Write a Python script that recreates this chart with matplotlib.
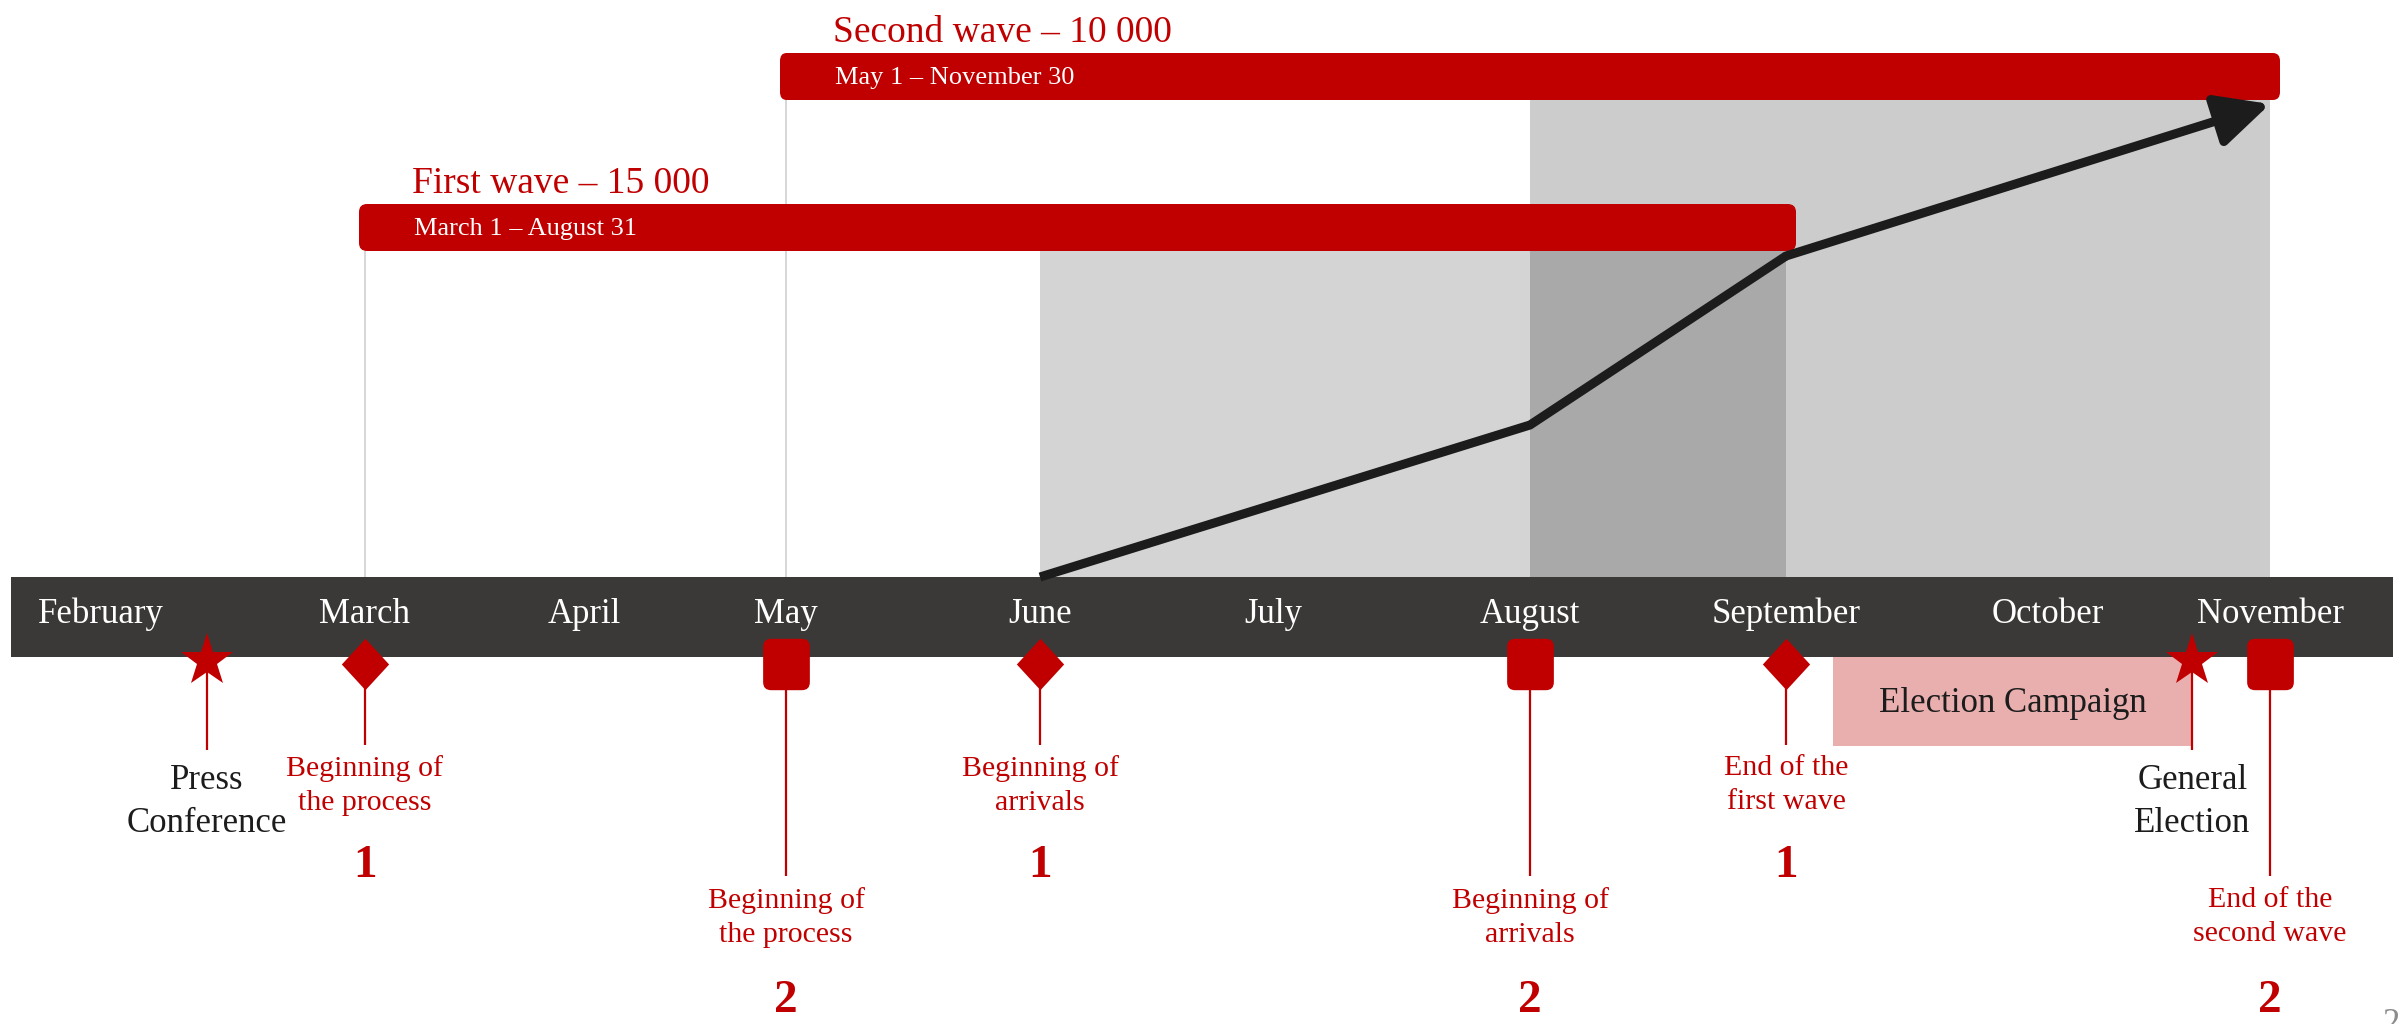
import numpy as np
import matplotlib.pyplot as plt
from matplotlib.patches import FancyBboxPatch, Rectangle, BoxStyle

plt.rcParams['font.family'] = ['Liberation Serif', 'DejaVu Serif']

RED = '#c00000'
INK = '#1c1c1c'
BAND = '#3b3937'

# months along the timeline, index 0 = February
months = ["February", "March", "April", "May", "June", "July",
          "August", "September", "October", "November"]
# the slide spaces the months unevenly, so the x scale follows these positions
month_px = [101, 365, 584, 786, 1040, 1273, 1530, 1786, 2048, 2270]

# the two waves (month index of start / end)
wave_titles = ["First wave – 15 000", "Second wave – 10 000"]
wave_dates = ["March 1 – August 31", "May 1 – November 30"]
wave_span = [(1, 7), (3, 9)]
wave_arrivals = [(4, 7), (6, 9)]

# cumulative arrivals (height above the band)
arrival_month = [4, 6, 7, 9]
arrival_level = [0, 152, 321, 473]

# milestones under the band
event_month = [0.4, 1, 3, 4, 6, 7, 8.65, 9]
event_label = ["Press\nConference", "Beginning of\nthe process", "Beginning of\nthe process",
               "Beginning of\narrivals", "Beginning of\narrivals", "End of the\nfirst wave",
               "General\nElection", "End of the\nsecond wave"]
event_wave = [0, 1, 2, 1, 2, 1, 0, 2]
event_kind = ["star", "diamond", "square", "diamond", "square", "diamond", "star", "square"]

campaign = (7.18, 8.65)

# piecewise linear month -> pixel scale
knot_m = np.arange(-1, len(months) + 1)
knot_px = np.concatenate([[2 * month_px[0] - month_px[1]], month_px,
                          [2 * month_px[-1] - month_px[-2]]])


def fwd(m):
    return np.interp(m, knot_m, knot_px)


def inv(p):
    return np.interp(p, knot_px, knot_m)


W, H = 2405, 1024
fig = plt.figure(figsize=(W / 100, H / 100), dpi=100)
ax = fig.add_axes([0, 0, 1, 1])
ax.set_xscale('function', functions=(fwd, inv))
ax.set_xlim(inv(0), inv(W))
ax.set_ylim(H, 0)
ax.axis('off')

band_top, band_bot = 577, 657
bar_top = [204, 53]
bar_h = 47

# timeline band and month names
ax.axhspan(band_top, band_bot, xmin=11 / W, xmax=2393 / W, color=BAND, zorder=2, lw=0)
for i, name in enumerate(months):
    ax.text(i, 623, name, ha='center', va='baseline', color='white', fontsize=25, zorder=5)

# shaded arrival periods (overlap gets darker)
for (a, b), top, alpha in zip(wave_arrivals, [bar_top[0] + bar_h, bar_top[1] + bar_h], [0.17, 0.2]):
    ax.add_patch(Rectangle((a, top), b - a, band_top - top, facecolor='black', alpha=alpha,
                           edgecolor='none', zorder=1))

# wave bars with titles
for k in range(2):
    a, b = wave_span[k]
    x0 = inv(fwd(a) - 6)
    x1 = inv(fwd(b) + 10)
    ax.add_patch(FancyBboxPatch((x0, bar_top[k]), x1 - x0, bar_h,
                                boxstyle="round,pad=0,rounding_size=0.032", mutation_aspect=250,
                                facecolor=RED, edgecolor='none', zorder=3))
    ax.vlines(a, bar_top[k] + bar_h, band_top, color='#cfcfcf', lw=1.2, zorder=0)
    ax.annotate(wave_titles[k], xy=(a, bar_top[k] - 11), xytext=(34, 0), textcoords='offset points',
                ha='left', va='baseline', color=RED, fontsize=27)
    ax.annotate(wave_dates[k], xy=(a, bar_top[k] + 31), xytext=(35, 0), textcoords='offset points',
                ha='left', va='baseline', color='white', fontsize=19, zorder=4)

# arrivals arrow
ys = [band_top - v for v in arrival_level]
ax.plot(arrival_month[:-1], ys[:-1], color=INK, lw=6.5, solid_joinstyle='miter',
        solid_capstyle='butt', zorder=4)
ax.annotate('', xy=(arrival_month[-1], ys[-1]), xytext=(arrival_month[-2], ys[-2]),
            arrowprops=dict(arrowstyle='-|>,head_length=0.45,head_width=0.22', lw=6.5, color=INK,
                            shrinkA=0, shrinkB=0, mutation_scale=72), zorder=4)

# election campaign
c0, c1 = campaign
ax.add_patch(Rectangle((c0, band_bot), c1 - c0, 746 - band_bot, facecolor='#e9afaf',
                       edgecolor='none', zorder=1))
ax.text(inv((fwd(c0) + fwd(c1)) / 2), 712, "Election Campaign", ha='center', va='baseline',
        color=INK, fontsize=25, zorder=5)

# milestone markers
square = BoxStyle.Round(pad=0, rounding_size=0.17)(-0.5, -0.55, 1.0, 1.1, 1.0)
diamond = [(0, 1), (0.92, 0), (0, -1), (-0.92, 0)]
for m, lab, wave, kind in zip(event_month, event_label, event_wave, event_kind):
    if kind == 'star':
        my, ms, mk, tip = 661, 40, '*', 750
    elif kind == 'diamond':
        my, ms, mk, tip = 664, 37, diamond, 745
    else:
        my, ms, mk, tip = 664, 37, square, 876
    ax.vlines(m, my, tip, color=RED, lw=1.6, zorder=5)
    ax.plot([m], [my], marker=mk, markersize=ms, color=RED, markeredgewidth=0, zorder=6)
    if wave == 0:
        ax.text(m, 764, lab, ha='center', va='top', color=INK, fontsize=25, linespacing=1.4)
    else:
        top = 755 if wave == 1 else 887
        ax.text(m, top, lab, ha='center', va='top', color=RED, fontsize=21.5, linespacing=1.4)
        ax.text(m, 877 if wave == 1 else 1012, str(wave), ha='center', va='baseline',
                color=RED, fontsize=34, fontweight='bold')

# slide page number, cut by the edge
ax.text(inv(2382), 1008, "2", ha='left', va='top', color='#8c8c8c', fontsize=25)

fig.savefig('out.png', dpi=100)
